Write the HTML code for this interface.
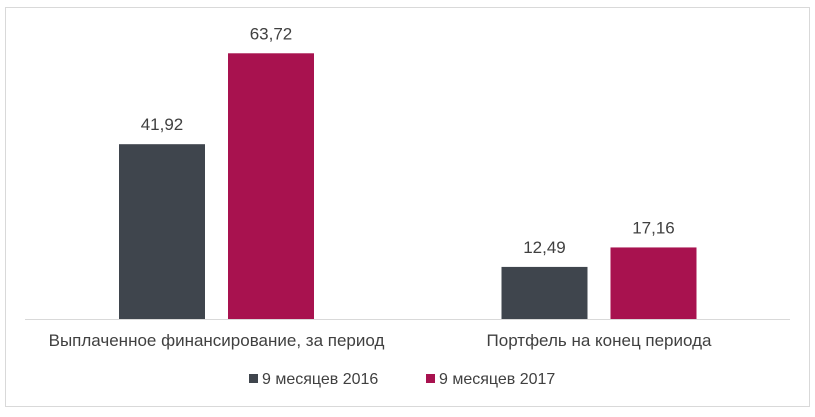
<!DOCTYPE html>
<html><head><meta charset="utf-8"><style>
body{margin:0;background:#fff;width:815px;height:412px;overflow:hidden;font-family:"Liberation Sans",Arial,sans-serif}
</style></head><body>
<svg width="815" height="412" xmlns="http://www.w3.org/2000/svg">
<rect x="5.5" y="7.5" width="804" height="399" fill="#fff" stroke="#d9d9d9"/>
<line x1="25" y1="319.5" x2="790" y2="319.5" stroke="#d9d9d9"/>
<g id="bars"></g>
<g>
<rect x="249" y="374" width="9" height="9" fill="#3f454d"/>
<text x="262" y="384" font-size="16" fill="#404040">9 месяцев 2016</text>
<rect x="426" y="374" width="9" height="9" fill="#a8124f"/>
<text x="439" y="384" font-size="16" fill="#404040">9 месяцев 2017</text>
</g>
</svg>
<script>
const categories=["Выплаченное финансирование, за период","Портфель на конец периода"];
const series2016=[41.92,12.49];
const series2017=[63.72,17.16];
const baseY=319, scale=4.17;
const groupCenters=[216.5,599];
const barW=86, gap=23;
const y=v=>baseY-v*scale;
const g=document.getElementById('bars');
const NS='http://www.w3.org/2000/svg';
const fmt=v=>v.toFixed(2).replace('.',',');
categories.forEach((c,i)=>{
  [[series2016,'#3f454d','2016'],[series2017,'#a8124f','2017']].forEach((s,j)=>{
    const v=s[0][i];
    const x=groupCenters[i]+(j===0?-gap/2-barW:gap/2);
    const r=document.createElementNS(NS,'rect');
    
    
    r.setAttribute('x',x);r.setAttribute('y',y(v));r.setAttribute('width',barW);r.setAttribute('height',baseY-y(v));r.setAttribute('fill',s[1]);
    g.appendChild(r);
    const t=document.createElementNS(NS,'text');
    
    
    t.setAttribute('x',x+barW/2);t.setAttribute('y',y(v)-14);t.setAttribute('text-anchor','middle');t.setAttribute('font-size','17');t.setAttribute('fill','#404040');
    t.textContent=fmt(v);
    g.appendChild(t);
  });
  const l=document.createElementNS(NS,'text');
  
  
  l.setAttribute('x',groupCenters[i]);l.setAttribute('y',346);l.setAttribute('text-anchor','middle');l.setAttribute('font-size','17');l.setAttribute('fill','#404040');
  l.textContent=c;
  g.appendChild(l);
});
</script>
</body></html>
